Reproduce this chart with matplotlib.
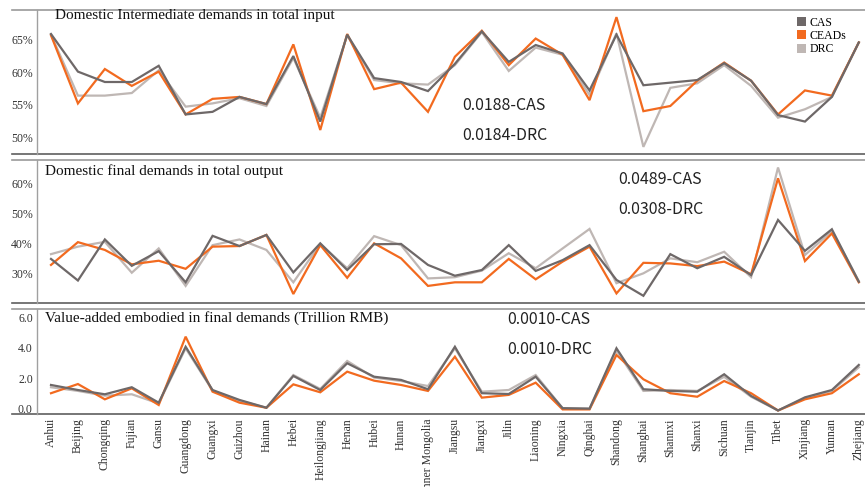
import matplotlib
matplotlib.use("Agg")
import matplotlib.pyplot as plt
from matplotlib.patches import Patch

provinces = ["Anhui", "Beijing", "Chongqing", "Fujian", "Gansu", "Guangdong", "Guangxi",
             "Guizhou", "Hainan", "Hebei", "Heilongjiang", "Henan", "Hubei", "Hunan",
             "Inner Mongolia", "Jiangsu", "Jiangxi", "Jilin", "Liaoning", "Ningxia",
             "Qinghai", "Shandong", "Shanghai", "Shannxi", "Shanxi", "Sichuan", "Tianjin",
             "Tibet", "Xinjiang", "Yunnan", "Zhejiang"]

# Panel 1: Domestic intermediate demands in total input (%)
inter_cas = [65.9, 60.1, 58.5, 58.5, 61.0, 53.5, 53.9, 56.2, 55.1, 62.5, 52.4, 65.8, 59.1, 58.5,
             57.1, 61.3, 66.3, 61.6, 64.2, 62.9, 57.2, 65.8, 58.0, 58.4, 58.8, 61.4, 58.7,
             53.4, 52.4, 56.2, 64.6]
inter_ceads = [65.7, 55.2, 60.5, 57.9, 60.1, 53.5, 55.9, 56.2, 55.1, 64.3, 51.1, 65.9, 57.4, 58.4,
               53.9, 62.4, 66.4, 61.1, 65.2, 62.7, 55.7, 68.5, 54.0, 54.8, 58.7, 61.5, 58.7,
               53.5, 57.2, 56.4, 64.6]
inter_drc = [65.8, 56.4, 56.4, 56.8, 60.3, 54.7, 55.2, 56.0, 54.8, 62.2, 53.0, 65.7, 58.8, 58.3,
             58.1, 61.1, 66.2, 60.2, 63.8, 62.7, 56.5, 66.0, 48.5, 57.6, 58.3, 61.1, 57.9,
             53.0, 54.3, 56.2, 64.6]

# Panel 2: Domestic final demands in total output (%)
final_cas = [34.8, 27.6, 41.3, 32.5, 37.4, 27.0, 42.5, 39.1, 42.8, 30.3, 40.0, 31.1, 39.7, 39.8,
             32.8, 29.2, 31.1, 39.4, 30.8, 34.4, 39.4, 27.8, 22.5, 36.4, 31.7, 35.5, 29.4,
             47.8, 37.5, 44.7, 27.2]
final_ceads = [32.8, 40.4, 37.8, 33.0, 34.2, 31.5, 38.9, 39.1, 42.8, 23.1, 39.4, 28.5, 40.0, 35.0,
               25.8, 27.0, 27.0, 34.8, 28.0, 33.9, 38.9, 23.3, 33.5, 33.3, 32.4, 33.9, 29.7,
               61.7, 34.1, 43.3, 27.0]
final_drc = [36.4, 38.9, 40.5, 30.2, 38.3, 25.8, 39.4, 41.3, 37.8, 27.0, 39.8, 31.7, 42.4, 39.4,
             28.3, 28.7, 30.9, 36.7, 31.7, 38.3, 44.8, 26.7, 30.0, 35.0, 33.7, 37.2, 28.7,
             65.3, 36.1, 44.1, 27.4]

# Panel 3: Value-added embodied in final demands (Trillion RMB)
va_cas = [1.57, 1.24, 0.96, 1.42, 0.41, 4.07, 1.24, 0.59, 0.08, 2.16, 1.24, 2.99, 2.11, 1.90,
          1.29, 4.07, 1.03, 0.98, 2.11, 0.05, 0.02, 3.97, 1.29, 1.18, 1.13, 2.27, 0.85,
          -0.10, 0.76, 1.24, 2.88]
va_ceads = [1.03, 1.63, 0.63, 1.35, 0.26, 4.73, 1.13, 0.41, 0.08, 1.61, 1.09, 2.44, 1.85, 1.57,
            1.18, 3.42, 0.74, 0.92, 1.72, -0.03, -0.03, 3.53, 1.94, 1.03, 0.80, 1.83, 1.03,
            -0.10, 0.63, 1.03, 2.27]
va_drc = [1.42, 1.18, 0.87, 0.96, 0.36, 3.97, 1.20, 0.54, 0.08, 2.22, 1.31, 3.14, 2.05, 1.83,
          1.50, 3.97, 1.13, 1.24, 2.22, 0.05, 0.02, 3.82, 1.18, 1.24, 1.18, 2.10, 0.80,
          -0.10, 0.70, 1.18, 2.73]

titles = ["Domestic Intermediate demands in total input",
          "Domestic final demands in total output",
          "Value-added embodied in final demands (Trillion RMB)"]
notes = [["0.0188-CAS", "0.0184-DRC"],
         ["0.0489-CAS", "0.0308-DRC"],
         ["0.0010-CAS", "0.0010-DRC"]]
series_names = ["CAS", "CEADs", "DRC"]

C_CAS = "#6e6868"
C_CEADS = "#f26a1f"
C_DRC = "#bfb7b4"

serif = ["Liberation Serif", "DejaVu Serif"]
sans = ["Noto Sans CJK SC", "DejaVu Sans"]

W, H = 865, 487
fig = plt.figure(figsize=(W / 100, H / 100), dpi=100)

left = 37 / W
width = 828 / W
panels_px = [(10, 154), (160, 303), (309, 414)]
axes = []
for top, bot in panels_px:
    ax = fig.add_axes([left, 1 - bot / H, width, (bot - top) / H])
    axes.append(ax)

x = list(range(len(provinces)))
data = [(inter_cas, inter_ceads, inter_drc),
        (final_cas, final_ceads, final_drc),
        (va_cas, va_ceads, va_drc)]
ylims = [(47.4, 69.6), (20.1, 67.8), (-0.33, 6.54)]
yticks = [[50, 55, 60, 65], [30, 40, 50, 60], [0, 2, 4, 6]]
ytl = [["50%", "55%", "60%", "65%"], ["30%", "40%", "50%", "60%"], ["0.0", "2.0", "4.0", "6.0"]]
note_pos = [((462 - 37) / 828, [(154 - 105) / 144, (154 - 135) / 144]),
            ((618 - 37) / 828, [(303 - 179) / 143, (303 - 209) / 143]),
            ((507 - 37) / 828, [(414 - 320) / 105, (414 - 350) / 105])]
title_x = [(55 - 37) / 828, (45 - 37) / 828, (45 - 37) / 828]
title_y = [(154 - 16) / 144, (303 - 171) / 143, (414 - 318) / 105]

for i, ax in enumerate(axes):
    cas, ceads, drc = data[i]
    ax.plot(x, drc, color=C_DRC, lw=1.6, solid_joinstyle="miter")
    ax.plot(x, ceads, color=C_CEADS, lw=1.6, solid_joinstyle="miter")
    ax.plot(x, cas, color=C_CAS, lw=1.6, solid_joinstyle="miter")
    ax.set_xlim(-0.52, 30.23)
    ax.set_ylim(*ylims[i])
    ax.set_yticks(yticks[i])
    ax.set_yticklabels(ytl[i], family=serif, fontsize=8.5, color="#333333")
    ax.tick_params(axis="both", length=0, pad=3)
    for s in ["top", "right", "bottom"]:
        ax.spines[s].set_visible(False)
    ax.spines["left"].set_color("#a0a0a0")
    ax.spines["left"].set_linewidth(1.0)
    # long horizontal rules extending to the left margin
    ax.plot([-25 / 828, 1], [1, 1], transform=ax.transAxes, color="#9a9a9a", lw=1.2, clip_on=False)
    ax.plot([-25 / 828, 1], [0, 0], transform=ax.transAxes, color="#5f5f5f", lw=1.2, clip_on=False)
    ax.text(title_x[i], title_y[i], titles[i], transform=ax.transAxes, family=serif,
            fontsize=11, va="center", ha="left", color="#111111")
    nx, nys = note_pos[i]
    for t, ny in zip(notes[i], nys):
        ax.text(nx, ny, t, transform=ax.transAxes, family=sans, fontsize=11.5,
                fontweight="light", va="center", ha="left", color="#222222")
    if i < 2:
        ax.set_xticks([])
    else:
        ax.set_xticks(x)
        ax.set_xticklabels(provinces, rotation=90, family=serif, fontsize=8.5,
                           color="#333333", va="top", ha="center")

handles = [Patch(facecolor=C_CAS, edgecolor="none"),
           Patch(facecolor=C_CEADS, edgecolor="none"),
           Patch(facecolor=C_DRC, edgecolor="none")]
axes[0].legend(handles, series_names, loc="upper left", bbox_to_anchor=((791 - 37) / 828, (154 - 11) / 144),
               frameon=False, prop={"family": serif, "size": 8.5}, handlelength=0.8,
               handleheight=0.8, handletextpad=0.3, labelspacing=0.1, borderpad=0)

fig.savefig("out.png", dpi=100)
